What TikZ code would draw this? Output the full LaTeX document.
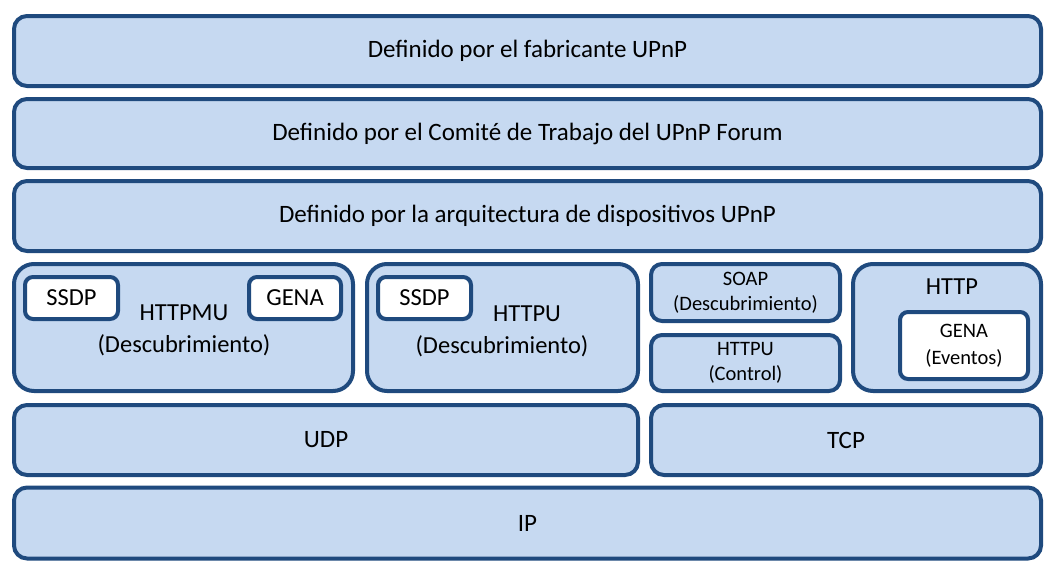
\documentclass[tikz,border=0pt]{standalone}
\usepackage{fontspec}
\setmainfont{Carlito}
\usepackage{xcolor}
\definecolor{layerfill}{HTML}{C6D9F1}
\definecolor{layerline}{HTML}{1F4A7E}
\tikzset{
layerbox/.style={rectangle, rounded corners=13pt, draw=layerline, fill=layerfill, line width=4pt, inner sep=0pt, font=\fontsize{25}{32}\selectfont},
bigbox/.style={layerbox, rounded corners=20pt},
smallbox/.style={layerbox, rounded corners=11pt, align=center, font=\fontsize{20.5}{25}\selectfont},
whitebox/.style={rectangle, rounded corners=8pt, draw=layerline, fill=white, line width=4pt, inner sep=0pt, font=\fontsize{24.5}{32}\selectfont},
labeltext/.style={inner sep=0pt, font=\fontsize{24.5}{32}\selectfont},
}

\begin{document}
\begin{tikzpicture}[x=1pt,y=-1pt]
\useasboundingbox (0,0) rectangle (1056,570);

\node[layerbox, minimum width=1027pt, minimum height=70pt] at (527.5,51) (fab) {Definido por el fabricante UPnP};
\node[layerbox, minimum width=1027pt, minimum height=69pt] at (527.5,133.5) (comite) {Definido por el Comité de Trabajo del UPnP Forum};
\node[layerbox, minimum width=1027pt, minimum height=70pt] at (527.5,216) (arq) {Definido por la arquitectura de dispositivos UPnP};

\node[bigbox, minimum width=339pt, minimum height=127pt] at (183.5,327.5) (httpmu) {};
\node[whitebox, minimum width=93pt, minimum height=42pt] at (71.5,298) (ssdpa) {SSDP};
\node[whitebox, minimum width=92pt, minimum height=42pt] at (295,298) (genaa) {GENA};
\node[labeltext, align=center] at (184,330) (httpmutxt) {HTTPMU\\(Descubrimiento)};

\node[bigbox, minimum width=271pt, minimum height=127pt] at (502.5,327.5) (httpu) {};
\node[whitebox, minimum width=93pt, minimum height=42pt] at (424.5,298) (ssdpb) {SSDP};
\node[labeltext] at (527,314) (httputxt) {HTTPU};
\node[labeltext] at (502,346) (descutxt) {(Descubrimiento)};

\node[smallbox, minimum width=189pt, minimum height=57pt] at (745.5,292.5) (soap) {SOAP\\(Descubrimiento)};
\node[smallbox, minimum width=189pt, minimum height=56pt] at (745.5,363) (httpuc) {HTTPU\\(Control)};

\node[bigbox, minimum width=188pt, minimum height=127pt] at (947,327.5) (http) {};
\node[labeltext] at (952,287) (httptxt) {HTTP};
\node[whitebox, minimum width=128pt, minimum height=67pt, align=center, font=\fontsize{20.5}{27}\selectfont] at (964,345.5) (genab) {GENA\\(Eventos)};

\node[layerbox, minimum width=624pt, minimum height=70pt] at (326,440) (udp) {UDP};
\node[layerbox, minimum width=390pt, minimum height=70pt] at (846,440) (tcp) {TCP};
\node[layerbox, minimum width=1027pt, minimum height=71pt] at (527.5,523) (ip) {IP};

\end{tikzpicture}
\end{document}
